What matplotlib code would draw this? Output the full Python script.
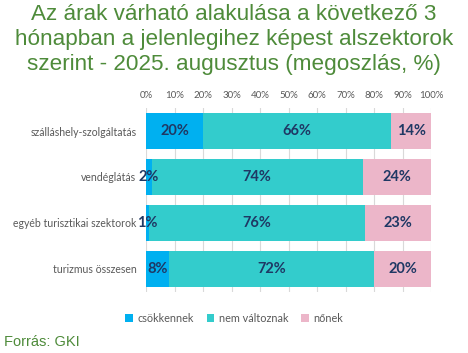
import matplotlib.pyplot as plt
import numpy as np

# data
categories = ["szálláshely-szolgáltatás", "vendéglátás",
              "egyéb turisztikai szektorok", "turizmus összesen"]
csokkennek = [20, 2, 1, 8]
nem_valtoznak = [66, 74, 76, 72]
nonek = [14, 24, 23, 20]
series_names = ["csökkennek", "nem változnak", "nőnek"]
colors = ["#00B0F0", "#33CCCC", "#ECB6C9"]

title = ("Az árak várható alakulása a következő 3\n"
         "hónapban a jelenlegihez képest alszektorok\n"
         "szerint - 2025. augusztus (megoszlás, %)")
green = "#4E8B3A"

fig = plt.figure(figsize=(4.68, 3.53), dpi=100)
ax = fig.add_axes([0.312, 0.173, 0.609, 0.521])

y = np.arange(len(categories))
left = np.zeros(len(categories))
for vals, name, col in zip([csokkennek, nem_valtoznak, nonek], series_names, colors):
    vals = np.array(vals)
    ax.barh(y, vals, left=left, height=0.78, color=col, label=name, zorder=2)
    for yi, l, v in zip(y, left, vals):
        ax.text(l + v / 2, yi, f"{v}%", ha="center", va="center",
                fontsize=10.5, fontweight="bold", color="#1F3864",
                family="Lato", zorder=3)
    left += vals

ax.set_xlim(0, 100)
ax.set_ylim(len(categories) - 0.5, -0.5)
ax.set_yticks(y)
ax.set_yticklabels(categories, fontsize=7.6, color="#595959", family="Lato")
ax.set_xticks(np.arange(0, 101, 10))
ax.set_xticklabels([f"{t}%" for t in range(0, 101, 10)], fontsize=7, color="#595959", family="Lato")
ax.xaxis.tick_top()
ax.tick_params(axis="x", length=0, pad=6)
ax.tick_params(axis="y", length=0, pad=7)
ax.grid(axis="x", color="#D9D9D9", linewidth=0.8, zorder=1)
for s in ax.spines.values():
    s.set_visible(False)

fig.text(0.5, 0.99, title, ha="center", va="top", fontsize=16.2,
         color=green, family="Liberation Sans", linespacing=1.25)

ax.legend(loc="center", bbox_to_anchor=(0.5, 0.099), bbox_transform=fig.transFigure,
          ncol=3, frameon=False, prop={"family": "Lato", "size": 7.8},
          handlelength=0.7, handleheight=0.7, handletextpad=0.4, columnspacing=1.2,
          labelcolor="#595959")

fig.text(0.008, 0.012, "Forrás: GKI", ha="left", va="bottom", fontsize=10.5,
         color=green, family="Liberation Sans")

fig.savefig("out.png", dpi=100)
